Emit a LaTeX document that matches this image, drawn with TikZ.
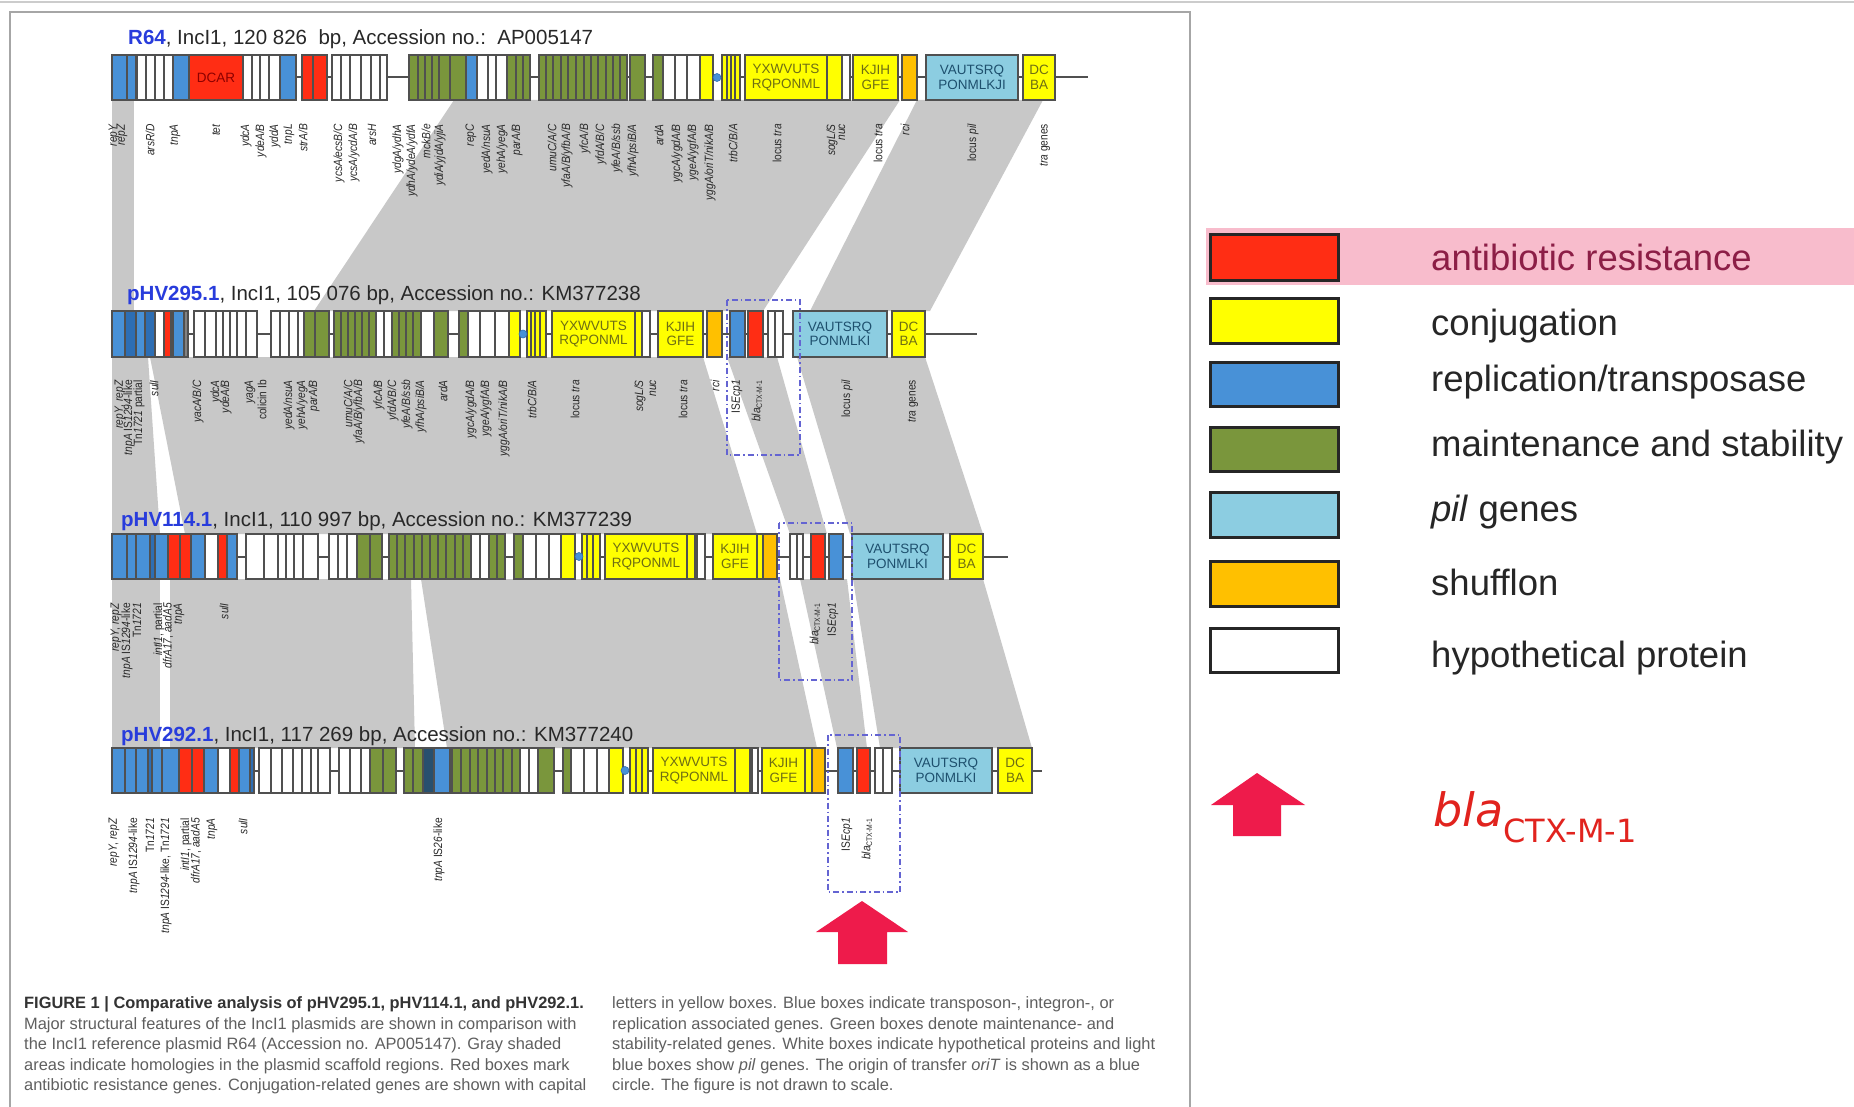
\documentclass[tikz,border=0pt]{standalone}
\usepackage{fontspec}
\setmainfont{Liberation Sans}
\newfontfamily\dejavu{DejaVu Sans}
\newfontfamily\labfont[FakeStretch=0.85]{Liberation Sans}
\definecolor{cRed}{RGB}{255,45,20}
\definecolor{cYel}{RGB}{255,255,0}
\definecolor{cBlue}{RGB}{72,145,215}
\definecolor{cBlueD}{RGB}{45,110,180}
\definecolor{cTeal}{RGB}{40,80,110}
\definecolor{cGreen}{RGB}{122,150,60}
\definecolor{cLBlue}{RGB}{140,205,225}
\definecolor{cOrange}{RGB}{255,192,0}
\definecolor{cGray}{RGB}{200,200,200}
\definecolor{cGrayD}{RGB}{130,130,130}
\definecolor{cEdge}{RGB}{80,80,80}
\definecolor{cTitle}{RGB}{40,60,220}
\definecolor{cDash}{RGB}{100,100,210}
\definecolor{cPink}{RGB}{248,188,204}
\definecolor{cArrow}{RGB}{238,27,75}
\definecolor{cBla}{RGB}{225,35,30}
\definecolor{cLegRed}{RGB}{140,30,70}
\definecolor{cLab}{RGB}{40,40,40}
\definecolor{cCap}{RGB}{95,95,95}
\definecolor{cYTxt}{RGB}{110,110,20}
\definecolor{cPTxt}{RGB}{30,80,110}
\newcommand{\gi}[1]{\textit{#1}}
\newcommand{\blalab}{\textit{bla}\textsubscript{CTX-M-1}}
\newcommand{\generow}[3]{\foreach \a/\b/\c in {#3} {\filldraw[gene, fill=\c] (\a,#1) rectangle (\b,#2);}}
\newcommand{\labrow}[3]{\foreach \x/\t [count=\n] in {#3} {\node[lab] (#1\n) at (\x,#2) {\t};}}
\begin{document}
\begin{tikzpicture}[x=1pt,y=-1pt,
  gene/.style={draw=cEdge, line width=1.1pt},
  spine/.style={draw=cEdge, line width=2pt},
  lab/.style={rotate=90, anchor=east, inner sep=0pt, text=cLab, font=\labfont\fontsize{12}{13}\selectfont},
  ytxt/.style={align=center, inner sep=0pt, text=cYTxt, font=\fontsize{13.5}{14.5}\selectfont},
  ptxt/.style={align=center, inner sep=0pt, text=cPTxt, font=\fontsize{13.5}{14.5}\selectfont},
  ptitle/.style={anchor=base west, inner sep=0pt, text=cLab, font=\fontsize{20.5}{24}\selectfont},
  hom/.style={fill=cGray, draw=none},
  dashbox/.style={draw=cDash, line width=1.3pt, dash pattern=on 6pt off 3pt on 1.5pt off 3pt},
  ori/.style={circle, fill=cBlue, draw=cBlueD, line width=0.6pt, inner sep=0pt, minimum size=8pt},
  legbox/.style={draw=black!85, line width=3pt},
  legtxt/.style={anchor=base west, inner sep=0pt, text=black!85, font=\fontsize{36.5}{42}\selectfont},
  captxt/.style={anchor=base west, inner sep=0pt, text=cCap, font=\fontsize{16.4}{19}\selectfont},
  bigarrow/.style={fill=cArrow, draw=none}
]
\useasboundingbox (0,0) rectangle (1854,1107);
\fill[white] (0,0) rectangle (1854,1107);
\draw[black!20, line width=1.5pt] (0,2) -- (1854,2);

% ---------- homology areas ----------
\fill[hom] (112,100) -- (134,100) -- (134,311) -- (112,311) -- cycle;
\fill[hom] (454,100) -- (900,100) -- (763,311) -- (314,311) -- cycle;
\fill[hom] (917,100) -- (1043,100) -- (930,311) -- (810,311) -- cycle;
\fill[hom] (112,357) -- (148,357) -- (160,534) -- (112,534) -- cycle;
\fill[hom] (150,357) -- (703,357) -- (757,534) -- (185,534) -- cycle;
\fill[hom] (727,357) -- (777,357) -- (827,534) -- (790,534) -- cycle;
\fill[hom] (797,357) -- (925,357) -- (983,534) -- (850,534) -- cycle;
\fill[hom] (112,579) -- (160,579) -- (160,748) -- (112,748) -- cycle;
\fill[hom] (170,579) -- (411,579) -- (415,748) -- (170,748) -- cycle;
\fill[hom] (421,579) -- (780,579) -- (817,748) -- (447,748) -- cycle;
\fill[hom] (800,579) -- (847,579) -- (867,748) -- (837,748) -- cycle;
\fill[hom] (853,579) -- (983,579) -- (1032,748) -- (880,748) -- cycle;

% ---------- titles ----------
\node[ptitle] (t1) at (128,45) {\textbf{\color{cTitle}R64}, IncI1, 120 826\ \ bp, Accession no.:\ \ AP005147};
\node[ptitle] (t2) at (127,300) {\textbf{\color{cTitle}pHV295.1}, IncI1, 105 076 bp, Accession no.: KM377238};
\node[ptitle] (t3) at (121,526) {\textbf{\color{cTitle}pHV114.1}, IncI1, 110 997 bp, Accession no.: KM377239};
\node[ptitle] (t4) at (121,741) {\textbf{\color{cTitle}pHV292.1}, IncI1, 117 269 bp, Accession no.: KM377240};

% ---------- R64 ----------
\draw[spine] (112,77.5) -- (1088,77.5);
\generow{55}{100}{112/127/cBlue, 127/136/cBlue, 137/146/white, 146/155/white, 155/164/white, 164/173/white,
173/189/cBlue, 189/243/cRed, 243/252/white, 252/260/white, 260/269/white, 269/280/white, 280/296/cBlue,
302/313/cRed, 313/327/cRed, 332/341/white, 341/350/white, 350/361/white, 361/371/white, 371/380/white, 380/387/white,
409/418/cGreen, 418/425/cGreen, 425/432/cGreen, 432/439/cGreen, 439/450/cGreen, 450/466/cGreen, 466/477/cBlue,
477/488/white, 488/496/white, 496/507/white, 507/516/cGreen, 516/523/cGreen, 523/530/cGreen,
539/546/cGreen, 546/553/cGreen, 553/561/cGreen, 561/568/cGreen, 568/576/cGreen, 576/584/cGreen, 584/591/cGreen,
591/598/cGreen, 598/606/cGreen, 606/613/cGreen, 613/620/cGreen, 620/627/cGreen, 630/645/cGreen, 653/663/cGreen,
663/675/white, 675/687/white, 687/700/white, 700/713/cYel, 722/727/cYel, 727/731/cYel, 731/735/cYel, 735/740/cYel,
745/827/cYel, 827/842/cYel, 842/850/white, 853/898/cYel, 902/917/cOrange, 926/1018/cLBlue, 1023/1055/cYel}
\node[ori] (o1) at (717,77.5) {};
\node[inner sep=0pt, text=red!55!black, font=\fontsize{13.5}{14}\selectfont] (b1a) at (216,77.5) {DCAR};
\node[ytxt] (b1b) at (786,77.5) {YXWVUTS\\RQPONML};
\node[ytxt] (b1c) at (875.5,77.5) {KJIH\\GFE};
\node[ptxt] (b1d) at (972,77.5) {VAUTSRQ\\PONMLKJI};
\node[ytxt] (b1e) at (1039,77.5) {DC\\BA};
\labrow{la}{124}{114/\gi{repY}, 122/\gi{repZ}, 150/\gi{arsR/D}, 175/\gi{tnpA}, 216/\gi{tet}, 246/\gi{ydcA}, 261/\gi{ydeA/B},
275/\gi{yddA}, 289/\gi{tnpL}, 303/\gi{strA/B}, 339/\gi{ycsA/ecsB/C}, 354/\gi{ycsA/ycdA/B}, 372/\gi{arsH},
398/\gi{ydgA/ydhA}, 412/\gi{ydhA/ydeA/ydfA}, 426/\gi{mckB/e}, 440/\gi{ydiA/yjdA/yjiA}, 471/\gi{repC},
487/\gi{yedA/nsuA}, 502/\gi{yehA/yegA}, 517/\gi{parA/B}, 552/\gi{umuC/A/C}, 567/\gi{yfaA/B/yfbA/B},
585/\gi{yfcA/B}, 601/\gi{yfdA/B/C}, 617/\gi{yfeA/B/ssb}, 633/\gi{yfhA/psiB/A}, 659/\gi{ardA},
677/\gi{ygcA/ygdA/B}, 693/\gi{ygeA/ygfA/B}, 710/\gi{yggA/oriT/nikA/B}, 733/\gi{trbC/B/A},
777/locus \gi{tra}, 832/\gi{sogL/S}, 842/\gi{nuc}, 878/locus \gi{tra}, 905/\gi{rci}, 973/locus \gi{pil}, 1045/\gi{tra} genes}

% ---------- pHV295.1 ----------
\draw[spine] (112,334) -- (977,334);
\generow{311}{357}{112/125/cBlue, 125/136/cBlueD, 136/145/cBlue, 145/155/cBlueD, 155/164/white, 164/171/cRed, 171/173/white,
173/184/cBlue, 184/188/cGrayD, 194/205/white, 205/216/white, 216/223/white, 223/230/white, 230/237/white, 237/246/white, 246/257/white,
271/280/white, 280/289/white, 289/298/white, 298/304/white, 304/315/cGreen, 315/329/cGreen,
334/341/cGreen, 341/348/cGreen, 348/355/cGreen, 355/362/cGreen, 362/369/cGreen, 369/376/cGreen, 376/384/white, 384/392/white,
392/399/cGreen, 399/406/cGreen, 406/413/cGreen, 413/421/cGreen, 421/434/white, 434/448/cGreen, 459/468/cGreen,
468/480/white, 480/495/white, 495/509/white, 509/520/cYel, 527/531/cYel, 531/535/cYel, 535/540/cYel, 540/546/cYel,
552/635/cYel, 635/642/cYel, 642/650/white, 658/703/cYel, 707/722/cOrange, 730/745/cBlue, 748/763/cRed,
768/775/white, 775/783/white, 793/887/cLBlue, 892/925/cYel}
\node[ori] (o2) at (523,334) {};
\node[ytxt] (b2b) at (593.5,334) {YXWVUTS\\RQPONML};
\node[ytxt] (b2c) at (680.5,334) {KJIH\\GFE};
\node[ptxt] (b2d) at (840,334) {VAUTSRQ\\PONMLKI};
\node[ytxt] (b2e) at (908.5,334) {DC\\BA};
\labrow{lb}{380}{120/{\gi{repY}, \gi{repZ}}, 129/{\gi{tnpA} IS\gi{1294}-like}, 139/{Tn\gi{1721} partial}, 154/\gi{sulI},
198/\gi{yacA/B/C}, 216/\gi{ydcA}, 226/\gi{ydeA/B}, 250/\gi{yagA}, 262/colicin Ib, 289/\gi{yedA/nsuA}, 302/\gi{yehA/yegA},
314/\gi{parA/B}, 348/\gi{umuC/A/C}, 359/\gi{yfaA/B/yfbA/B}, 379/\gi{yfcA/B}, 393/\gi{yfdA/B/C}, 407/\gi{yfeA/B/ssb},
421/\gi{yfhA/psiB/A}, 443/\gi{ardA}, 471/\gi{ygcA/ygdA/B}, 486/\gi{ygeA/ygfA/B}, 504/\gi{yggA/oriT/nikA/B},
532/\gi{trbC/B/A}, 575/locus \gi{tra}, 640/\gi{sogL/S}, 653/\gi{nuc}, 683/locus \gi{tra}, 715/\gi{rci},
737/IS\gi{Ecp1}, 757/\blalab, 847/locus \gi{pil}, 913/\gi{tra} genes}
\draw[dashbox] (727,300) rectangle (800,455);

% ---------- pHV114.1 ----------
\draw[spine] (112,556.5) -- (1008,556.5);
\generow{534}{579}{112/127/cBlue, 127/136/cBlue, 136/150/cBlue, 150/155/cBlueD, 155/168/cBlue, 168/180/cRed, 180/191/cRed,
191/205/cBlue, 205/218/white, 218/227/cRed, 227/237/cBlue, 246/264/white, 264/278/white, 278/286/white, 286/294/white,
294/303/white, 303/318/white, 329/338/white, 338/347/white, 347/357/white, 357/370/cGreen, 370/382/cGreen,
389/397/cGreen, 397/405/cGreen, 405/414/cGreen, 414/422/cGreen, 422/430/cGreen, 430/438/cGreen, 438/446/cGreen,
446/455/cGreen, 455/463/cGreen, 463/471/cGreen, 471/480/white, 480/489/white, 489/497/cGreen, 497/505/cGreen,
514/523/cGreen, 523/536/white, 536/549/white, 549/561/white, 561/575/cYel, 582/587/cYel, 587/593/cYel, 593/600/cYel,
605/687/cYel, 687/695/cYel, 697/705/white, 713/757/cYel, 757/763/cYel, 763/777/cOrange,
790/797/white, 797/803/white, 811/825/cRed, 829/843/cBlue, 852/943/cLBlue, 950/983/cYel}
\node[ori] (o3) at (579,556.5) {};
\node[ytxt] (b3b) at (646,556.5) {YXWVUTS\\RQPONML};
\node[ytxt] (b3c) at (735,556.5) {KJIH\\GFE};
\node[ptxt] (b3d) at (897.5,556.5) {VAUTSRQ\\PONMLKI};
\node[ytxt] (b3e) at (966.5,556.5) {DC\\BA};
\labrow{lc}{603}{116/{\gi{repY}, \gi{repZ}}, 127/{\gi{tnpA} IS\gi{1294}-like}, 137/Tn\gi{1721}, 159/{\gi{intI1}, partial},
168/{\gi{dfrA17}, \gi{aadA5}}, 179/\gi{tnpA}, 224/\gi{sulI}, 815/\blalab, 833/IS\gi{Ecp1}}
\draw[dashbox] (779,523) rectangle (852,680);

% ---------- pHV292.1 ----------
\draw[spine] (112,770.5) -- (1042,770.5);
\generow{748}{793}{112/125/cBlue, 125/136/cBlue, 136/148/cBlue, 148/152/cBlueD, 152/162/cBlue, 162/179/cBlue, 179/192/cRed,
192/204/cRed, 204/218/cBlue, 218/230/white, 230/239/cRed, 239/250/cBlue, 250/254/cBlueD,
259/271/white, 271/282/white, 282/293/white, 293/302/white, 302/311/white, 311/318/white, 318/330/white,
339/350/white, 350/361/white, 361/370/white, 370/383/cGreen, 383/396/cGreen, 404/413/cGreen, 413/423/cGreen,
423/434/cTeal, 434/450/cBlue, 452/461/cGreen, 461/470/cGreen, 470/478/cGreen, 478/487/cGreen, 487/495/cGreen,
495/503/cGreen, 503/512/cGreen, 512/520/cGreen, 520/529/white, 529/538/white, 538/554/cGreen, 563/571/cGreen,
571/584/white, 584/597/white, 597/609/white, 609/623/cYel, 630/636/cYel, 636/642/cYel, 642/648/cYel,
653/735/cYel, 735/750/cYel, 752/758/white, 762/805/cYel, 805/812/cYel, 812/825/cOrange,
838/853/cBlue, 857/870/cRed, 875/883/white, 883/892/white, 900/992/cLBlue, 998/1032/cYel}
\node[ori] (o4) at (625,770.5) {};
\node[ytxt] (b4b) at (694,770.5) {YXWVUTS\\RQPONML};
\node[ytxt] (b4c) at (783.5,770.5) {KJIH\\GFE};
\node[ptxt] (b4d) at (946,770.5) {VAUTSRQ\\PONMLKI};
\node[ytxt] (b4e) at (1015,770.5) {DC\\BA};
\labrow{ld}{818}{114/{\gi{repY}, \gi{repZ}}, 134/{\gi{tnpA} IS\gi{1294}-like}, 150/Tn\gi{1721}, 166/{\gi{tnpA} IS\gi{1294}-like, Tn\gi{1721}},
186/{\gi{intI1}, partial}, 196/{\gi{dfrA17}, \gi{aadA5}}, 212/\gi{tnpA}, 243/\gi{sulI}, 439/{\gi{tnpA} IS\gi{26}-like},
847/IS\gi{Ecp1}, 867/\blalab}
\draw[dashbox] (828,735) rectangle (900,892);

% ---------- arrow under figure ----------
\fill[bigarrow] (862,901) -- (908,932) -- (887,932) -- (887,964) -- (838,964) -- (838,932) -- (816,932) -- cycle;

% ---------- caption ----------
\node[captxt, text=black!80] (c1) at (24,1008) {\textbf{FIGURE 1 | Comparative analysis of pHV295.1, pHV114.1, and pHV292.1.}};
\node[captxt] (c2) at (24,1029) {Major structural features of the IncI1 plasmids are shown in comparison with};
\node[captxt] (c3) at (24,1049) {the IncI1 reference plasmid R64 (Accession no. AP005147). Gray shaded};
\node[captxt] (c4) at (24,1070) {areas indicate homologies in the plasmid scaffold regions. Red boxes mark};
\node[captxt] (c5) at (24,1090) {antibiotic resistance genes. Conjugation-related genes are shown with capital};
\node[captxt] (c6) at (612,1008) {letters in yellow boxes. Blue boxes indicate transposon-, integron-, or};
\node[captxt] (c7) at (612,1029) {replication associated genes. Green boxes denote maintenance- and};
\node[captxt] (c8) at (612,1049) {stability-related genes. White boxes indicate hypothetical proteins and light};
\node[captxt] (c9) at (612,1070) {blue boxes show \gi{pil} genes. The origin of transfer \gi{oriT} is shown as a blue};
\node[captxt] (c10) at (612,1090) {circle. The figure is not drawn to scale.};

% ---------- panel frame ----------
\draw[black!35, line width=1.5pt] (10,1107) -- (10,12) -- (1190,12) -- (1190,1107);

% ---------- legend ----------
\fill[cPink] (1206,228) rectangle (1854,285);
\filldraw[legbox, fill=cRed] (1210,235) rectangle (1338,280);
\filldraw[legbox, fill=cYel] (1210,298) rectangle (1338,343);
\filldraw[legbox, fill=cBlue] (1210,362) rectangle (1338,406);
\filldraw[legbox, fill=cGreen] (1210,427) rectangle (1338,471);
\filldraw[legbox, fill=cLBlue] (1210,492) rectangle (1338,537);
\filldraw[legbox, fill=cOrange] (1210,561) rectangle (1338,606);
\filldraw[legbox, fill=white] (1210,628) rectangle (1338,672);
\node[legtxt, text=cLegRed] (g1) at (1431,271) {antibiotic resistance};
\node[legtxt] (g2) at (1431,335) {conjugation};
\node[legtxt] (g3) at (1431,391) {replication/transposase};
\node[legtxt] (g4) at (1431,456) {maintenance and stability};
\node[legtxt] (g5) at (1431,521) {\gi{pil} genes};
\node[legtxt] (g6) at (1431,595) {shufflon};
\node[legtxt] (g7) at (1431,667) {hypothetical protein};
\fill[bigarrow] (1257,773) -- (1305,805) -- (1281,805) -- (1281,836) -- (1233,836) -- (1233,805) -- (1211,805) -- cycle;
\node[anchor=base west, inner sep=0pt, text=cBla] (g8) at (1433,826)
  {\dejavu\fontsize{46}{52}\selectfont\textit{bla}\raisebox{-16pt}{\fontsize{32}{36}\selectfont CTX-M-1}};
\end{tikzpicture}
\end{document}
